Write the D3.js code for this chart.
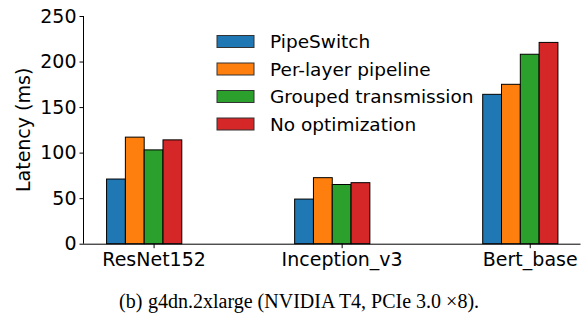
<!DOCTYPE html>
<html>
<head>
<meta charset="utf-8">
<script src="https://cdn.jsdelivr.net/npm/d3@7"></script>
<style>
  body { margin: 0; background: #fff; }
  svg { display: block; }
</style>
</head>
<body>
<svg id="chart" width="587" height="316"></svg>
<script>
const models = ['ResNet152', 'Inception_v3', 'Bert_base'];
const seriesNames = ['PipeSwitch', 'Per-layer pipeline', 'Grouped transmission', 'No optimization'];
const colors = ['#1f77b4', '#ff7f0e', '#2ca02c', '#d62728'];
const pipeSwitch = [71, 49, 164];
const perLayer = [117, 72.5, 175];
const grouped = [103, 65, 208];
const noOpt = [114, 67, 221];
const yTicks = [0, 50, 100, 150, 200, 250];

const values = [pipeSwitch, perLayer, grouped, noOpt];
const barW = 0.1;

const svg = d3.select('#chart');
const font = 'DejaVu Sans, sans-serif';

const x = d3.scaleLinear()
  .domain([-0.37, 2.27])
  .range([84, 580.5]);

const y = d3.scaleLinear()
  .domain([0, 250])
  .range([243.7, 16]);

// bars
values.forEach((series, s) => {
  svg.append('g')
    .selectAll('rect')
    .data(series)
    .enter()
    .append('rect')
      .attr('x', (d, i) => x(i + (s - 2) * barW - barW / 2))
      .attr('y', d => y(d))
      .attr('width', x(barW) - x(0))
      .attr('height', d => y(0) - y(d))
      .style('fill', colors[s])
      .style('stroke', '#000')
      .style('stroke-width', 1);
});

// Y axis
const yAxis = svg.append('g')
  .attr('transform', `translate(${x(-0.37)},0)`)
  .call(d3.axisLeft(y).tickValues(yTicks).tickSize(4.5).tickPadding(3));

// X axis
const xAxis = svg.append('g')
  .attr('transform', `translate(0,${y(0)})`)
  .call(d3.axisBottom(x).tickValues([0, 1, 2]).tickFormat(i => models[i]).tickSize(4.5).tickPadding(4));

[yAxis, xAxis].forEach(a => {
  a.select('.domain').attr('stroke', '#000').attr('stroke-width', 1);
  a.selectAll('.tick line').attr('stroke', '#000').attr('stroke-width', 1);
  a.selectAll('.tick text')
    .attr('fill', '#000')
    .style('font-family', font)
    .style('font-size', '19px');
});
xAxis.select('.domain').attr('d', `M${x(-0.37)},0.5H${x(2.27)}`);
yAxis.select('.domain').attr('d', `M-0.5,${y(250)}V${y(0)}`);

svg.append('text')
  .attr('transform', `translate(30,${(y(0) + y(250)) / 2}) rotate(-90)`)
  .attr('text-anchor', 'middle')
  .style('font-family', font)
  .style('font-size', '19px')
  .text('Latency (ms)');

// legend
const legend = svg.append('g').attr('transform', 'translate(217,41.5)');
seriesNames.forEach((name, s) => {
  const row = legend.append('g').attr('transform', `translate(0,${s * 27.5})`);
  row.append('rect')
    .attr('x', 0)
    .attr('y', -6)
    .attr('width', 37)
    .attr('height', 12)
    .style('fill', colors[s])
    .style('stroke', '#333')
    .style('stroke-width', 1);
  row.append('text')
    .attr('x', 53)
    .attr('y', 6.5)
    .style('font-family', font)
    .style('font-size', '18.5px')
    .text(name);
});

// caption
const serif = 'Liberation Serif, Times New Roman, serif';
svg.append('text')
  .attr('x', 119)
  .attr('y', 308)
  .style('font-family', serif)
  .style('font-size', '20px')
  .text('(b)');
svg.append('text')
  .attr('x', 148)
  .attr('y', 308)
  .style('font-family', serif)
  .style('font-size', '20px')
  .text('g4dn.2xlarge (NVIDIA T4, PCIe 3.0 \u00d78).');
</script>
</body>
</html>
